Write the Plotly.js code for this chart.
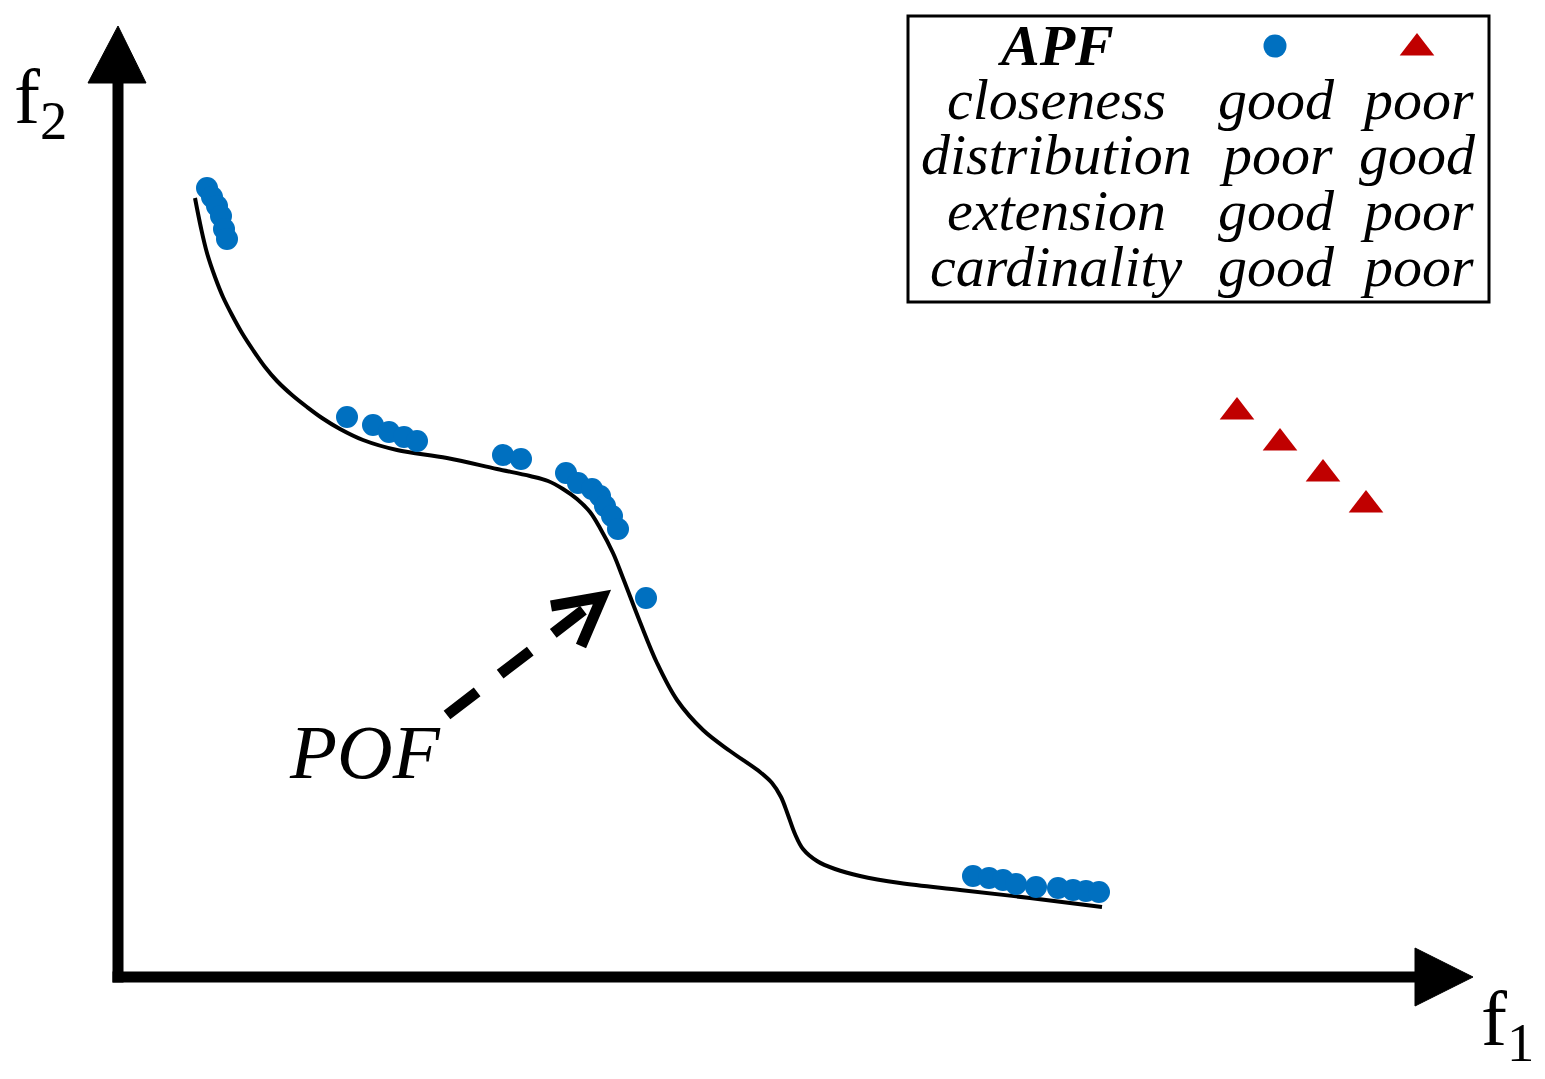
<!DOCTYPE html>
<html>
<head>
<meta charset="utf-8">
<script src="https://cdn.plot.ly/plotly-3.0.1.min.js"></script>
<style>html,body{margin:0;padding:0;background:#fff;}#chart{width:1545px;height:1079px;}</style>
</head>
<body>
<div id="chart"></div>
<script>
// Coordinates: f1 to the right of the axis corner, f2 upward from it
const curveF1 = [77, 83, 89, 97, 105, 114, 124, 135, 147, 159, 174, 189, 204, 222, 245, 279, 329, 379, 412, 430, 445, 459, 472, 482, 495, 505, 522, 539, 559, 585, 612, 642, 654, 663, 670, 677, 685, 699, 717, 742, 782, 842, 912, 984];
const curveF2 = [779, 749, 724, 700, 680, 662, 644, 627, 610, 596, 582, 570, 559, 548, 537, 527, 519, 508, 501, 496, 488, 478, 465, 449, 424, 399, 355, 314, 277, 247, 226, 205, 194, 180, 162, 143, 128, 116, 108, 101, 94, 87, 79, 70];

const blueF1 = [89, 94, 99, 103, 106, 109, 229, 255, 271, 286, 299, 385, 403, 448, 460, 474, 482, 487, 494, 500, 528, 855, 871, 885, 898, 918, 940, 955, 968, 981];
const blueF2 = [789, 780, 771, 761, 748, 738, 560, 552, 545, 540, 536, 522, 518, 504, 494, 488, 481, 471, 461, 448, 379, 101, 99, 97, 93, 90, 89, 87, 86, 85];

const redF1 = [1119, 1162, 1205, 1248];
const redF2 = [565, 534, 503, 472];

const tableRows = ["closeness", "distribution", "extension", "cardinality"];
const tableBlue = ["good", "poor", "good", "good"];
const tableRed  = ["poor", "good", "poor", "poor"];

const BLUE = "#0070C0", RED = "#C00000";
const FONT = "Liberation Serif";

const traces = [
  {x: curveF1, y: curveF2, mode: "lines", line: {color: "#000", width: 4, shape: "spline", smoothing: 1}, hoverinfo: "skip"},
  {x: blueF1, y: blueF2, mode: "markers", marker: {color: BLUE, size: 22, symbol: "circle"}},
  {x: redF1, y: redF2, mode: "markers", marker: {color: RED, size: 30, symbol: "triangle-up"}},
  // legend-table symbols
  {x: [1157], y: [931], mode: "markers", marker: {color: BLUE, size: 23, symbol: "circle"}},
  {x: [1299], y: [929], mode: "markers", marker: {color: RED, size: 30, symbol: "triangle-up"}}
];

const col1 = 938, col2 = 1158, col3 = 1299;
const rowY = [878, 823, 767, 711];
const tf = {family: FONT, size: 58, color: "#000"};
const annotations = [
  {x: col1, y: 932, text: "<b><i>APF</i></b>", showarrow: false, font: tf, xanchor: "center", yanchor: "middle"},
  {x: 247, y: 225, text: "<i>POF</i>", showarrow: false, font: {family: FONT, size: 77, color: "#000"}, xanchor: "center", yanchor: "middle"},
  {x: -78, y: 875, text: "f<sub>2</sub>", showarrow: false, font: {family: FONT, size: 78, color: "#000"}, xanchor: "center", yanchor: "middle"},
  {x: 1389, y: -47, text: "f<sub>1</sub>", showarrow: false, font: {family: FONT, size: 78, color: "#000"}, xanchor: "center", yanchor: "middle"}
];
tableRows.forEach((r, i) => {
  annotations.push({x: col1, y: rowY[i], text: "<i>" + r + "</i>", showarrow: false, font: tf, xanchor: "center", yanchor: "middle"});
  annotations.push({x: col2, y: rowY[i], text: "<i>" + tableBlue[i] + "</i>", showarrow: false, font: tf, xanchor: "center", yanchor: "middle"});
  annotations.push({x: col3, y: rowY[i], text: "<i>" + tableRed[i] + "</i>", showarrow: false, font: tf, xanchor: "center", yanchor: "middle"});
});

const shapes = [
  // f2 axis
  {type: "line", xref: "x", yref: "y", x0: 0, y0: -5.5, x1: 0, y1: 896, line: {color: "#000", width: 11}},
  {type: "path", xref: "x", yref: "y", path: "M -30,894 L 28,894 L 0,951 Z", fillcolor: "#000", line: {color: "#000", width: 1}},
  // f1 axis
  {type: "line", xref: "x", yref: "y", x0: -5.5, y0: 0, x1: 1299, y1: 0, line: {color: "#000", width: 11}},
  {type: "path", xref: "x", yref: "y", path: "M 1297,29 L 1297,-29 L 1355,0 Z", fillcolor: "#000", line: {color: "#000", width: 1}},
  // dashed arrow to POF
  {type: "line", xref: "x", yref: "y", x0: 329, y0: 262, x1: 480, y1: 378, line: {color: "#000", width: 11, dash: "38px,29px"}},
  {type: "path", xref: "x", yref: "y", path: "M 433,371 L 484,380 L 463,331", line: {color: "#000", width: 11}},
  // table frame
  {type: "rect", xref: "x", yref: "y", x0: 790, y0: 675, x1: 1371, y1: 961, line: {color: "#000", width: 3}, fillcolor: "rgba(0,0,0,0)"}
];

const layout = {
  width: 1545, height: 1079,
  margin: {l: 0, r: 0, t: 0, b: 0},
  paper_bgcolor: "#fff", plot_bgcolor: "#fff",
  showlegend: false,
  font: {family: FONT},
  xaxis: {range: [-118, 1427], visible: false, fixedrange: true},
  yaxis: {range: [-102, 977], visible: false, fixedrange: true},
  shapes: shapes,
  annotations: annotations
};

Plotly.newPlot("chart", traces, layout, {displayModeBar: false, staticPlot: true});
</script>
</body>
</html>
